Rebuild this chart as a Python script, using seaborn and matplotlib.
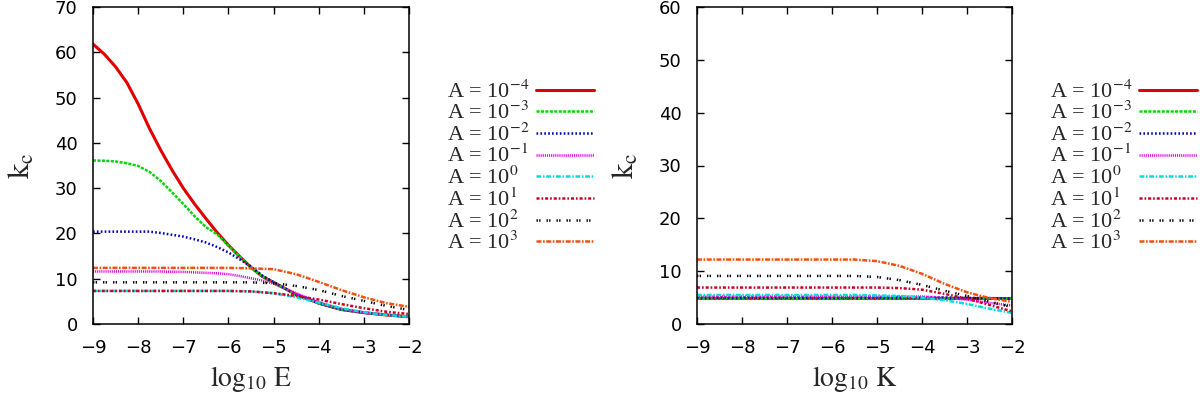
import numpy as np
import pandas as pd
import matplotlib
matplotlib.use('Agg')
import matplotlib.pyplot as plt
import seaborn as sns

sns.set_theme(style='ticks')
plt.rcParams['font.family'] = ['DejaVu Sans']
plt.rcParams['mathtext.fontset'] = 'stix'
plt.rcParams['lines.scale_dashes'] = False

# --- data ---
amp_labels = ['-4', '-3', '-2', '-1', '0', '1', '2', '3']

# left panel: k_c vs log10 E (finer sampling where the curves bend)
log_E = [-9, -8.75, -8.5, -8.25, -8, -7.75, -7.5, -7.25, -7, -6.75, -6.5, -6.25,
         -6, -5.75, -5.5, -5.25, -5, -4.5, -4, -3.5, -3, -2.5, -2]
kc_E_m4 = [61.8, 59.6, 56.8, 53.3, 48.6, 43.2, 38.4, 34.0, 30.0, 26.5, 23.3, 20.2,
           17.4, 14.9, 12.5, 10.5, 9.2, 6.5, 4.6, 3.2, 2.5, 2.0, 1.6]
kc_E_m3 = [36.1, 36.05, 35.9, 35.5, 34.9, 33.6, 31.6, 29.1, 26.5, 23.8, 21.4, 19.8,
           17.3, 14.9, 12.5, 10.5, 9.2, 6.5, 4.6, 3.2, 2.5, 2.0, 1.6]
kc_E_m2 = [20.4, 20.4, 20.4, 20.4, 20.4, 20.4, 20.1, 19.7, 19.3, 18.7, 18.0, 17.0,
           15.8, 14.3, 12.7, 10.7, 9.2, 6.5, 4.6, 3.2, 2.5, 2.0, 1.6]
kc_E_m1 = [11.6, 11.6, 11.6, 11.6, 11.6, 11.6, 11.6, 11.55, 11.5, 11.4, 11.3, 11.2,
           11.0, 10.6, 10.1, 9.6, 8.9, 6.8, 4.8, 3.3, 2.5, 2.0, 1.6]
kc_E_0 = [7.3, 7.3, 7.3, 7.3, 7.3, 7.3, 7.3, 7.3, 7.3, 7.3, 7.3, 7.3,
          7.3, 7.25, 7.2, 7.0, 6.8, 5.9, 4.7, 3.5, 2.6, 2.0, 1.6]
kc_E_1 = [7.3, 7.3, 7.3, 7.3, 7.3, 7.3, 7.3, 7.3, 7.3, 7.3, 7.3, 7.3,
          7.3, 7.25, 7.2, 7.0, 6.8, 6.2, 5.4, 4.4, 3.5, 2.7, 2.2]
kc_E_2 = [9.2, 9.2, 9.2, 9.2, 9.2, 9.2, 9.2, 9.2, 9.2, 9.2, 9.2, 9.2,
          9.2, 9.2, 9.2, 9.1, 9.0, 8.4, 7.5, 6.2, 5.1, 4.0, 3.1]
kc_E_3 = [12.4, 12.4, 12.4, 12.4, 12.4, 12.4, 12.4, 12.4, 12.4, 12.4, 12.4, 12.4,
          12.4, 12.35, 12.3, 12.2, 12.1, 11.0, 9.3, 7.5, 5.9, 4.6, 3.8]

# right panel: k_c vs log10 K
log_K = [-9, -8.5, -8, -7.5, -7, -6.5, -6, -5.5, -5, -4.5, -4, -3.5, -3, -2.5, -2]
kc_K_m4 = [5.0, 5.0, 5.0, 5.0, 5.0, 5.0, 5.0, 5.0, 5.0, 5.0, 5.0, 5.0, 5.0, 5.0, 5.0]
kc_K_m3 = [5.0, 5.0, 5.0, 5.0, 5.0, 5.0, 5.0, 5.0, 5.0, 5.0, 5.0, 5.0, 5.0, 5.0, 5.0]
kc_K_m2 = [5.0, 5.0, 5.0, 5.0, 5.0, 5.0, 5.0, 5.0, 5.0, 5.0, 5.0, 5.0, 4.95, 4.9, 4.8]
kc_K_m1 = [5.2, 5.2, 5.2, 5.2, 5.2, 5.2, 5.2, 5.2, 5.2, 5.2, 5.2, 5.0, 4.6, 4.0, 3.5]
kc_K_0 = [5.5, 5.5, 5.5, 5.5, 5.5, 5.5, 5.5, 5.5, 5.4, 5.3, 5.0, 4.5, 3.8, 2.9, 2.1]
kc_K_1 = [6.9, 6.9, 6.9, 6.9, 6.9, 6.9, 6.9, 6.9, 6.9, 6.8, 6.5, 5.7, 4.8, 3.6, 2.4]
kc_K_2 = [9.1, 9.1, 9.1, 9.1, 9.1, 9.1, 9.1, 9.1, 8.9, 8.3, 7.4, 6.3, 5.3, 4.2, 3.2]
kc_K_3 = [12.2, 12.2, 12.2, 12.2, 12.2, 12.2, 12.2, 12.2, 11.9, 11.0, 9.5, 7.6, 6.0, 4.9, 4.2]

series_E = [kc_E_m4, kc_E_m3, kc_E_m2, kc_E_m1, kc_E_0, kc_E_1, kc_E_2, kc_E_3]
series_K = [kc_K_m4, kc_K_m3, kc_K_m2, kc_K_m1, kc_K_0, kc_K_1, kc_K_2, kc_K_3]

# gnuplot-ish line styles
colors = ['#e00000', '#00d800', '#0000c0', '#e000e0', '#00dede', '#cc0022', '#000000', '#f05010']
styles = ['-',
          (0, (2.2, 1.0)),
          (0, (1.2, 1.6)),
          (0, (0.8, 0.7)),
          (0, (3.5, 1.2, 1.1, 1.2)),
          (0, (2.2, 1.4, 1.2, 1.4)),
          (0, (1.0, 0.9, 1.0, 4.3)),
          (0, (3.6, 1.1, 1.2, 1.1))]
widths = [2.2, 1.8, 1.8, 1.8, 1.8, 1.8, 1.8, 1.8]

fig = plt.figure(figsize=(12, 3.99), dpi=100)
ax1 = fig.add_axes([93 / 1200, 1 - 324 / 399, 316 / 1200, 317 / 399])
ax2 = fig.add_axes([697 / 1200, 1 - 324 / 399, 315 / 1200, 317 / 399])


def draw_panel(ax, xs, series, ymax, xname, legend_x):
    for vals, c, ls, lw, a in zip(series, colors, styles, widths, amp_labels):
        sns.lineplot(x=xs, y=vals, ax=ax, color=c, linestyle=ls, linewidth=lw,
                     label='A = 10$^{%s}$' % a.replace('-', '\u2212'))
    ax.set_xlim(-9, -2)
    ax.set_ylim(0, ymax)
    ax.set_xticks(range(-9, -1))
    ax.set_yticks(range(0, ymax + 1, 10))
    ax.tick_params(direction='in', top=True, right=True, length=5, width=1,
                   labelsize=13, pad=11, colors='black')
    for s in ax.spines.values():
        s.set_linewidth(1.1)
        s.set_color('black')
    ax.set_xlabel(r'$\mathrm{log_{10}\ %s}$' % xname, fontsize=20, labelpad=5)
    ax.set_ylabel(r'$\mathrm{k_c}$', fontsize=22, labelpad=14)
    return ax.legend(loc='upper left', bbox_to_anchor=(legend_x, 1 - 80 / 399),
                     bbox_transform=fig.transFigure, frameon=False, markerfirst=False,
                     borderaxespad=0, borderpad=0, handlelength=2.6, handletextpad=0.3,
                     labelspacing=-0.03, prop={'family': 'Liberation Serif', 'size': 16})


legs = [draw_panel(ax1, log_E, series_E, 70, 'E', 447 / 1200),
        draw_panel(ax2, log_K, series_K, 60, 'K', 1050 / 1200)]

# gnuplot keys: labels left-aligned, samples lined up in one column
fig.canvas.draw()
rend = fig.canvas.get_renderer()
for leg in legs:
    tw = [t.get_window_extent(rend).width for t in leg.get_texts()]
    col = leg._legend_handle_box.get_children()[0]
    col.align = 'left'
    for row, w in zip(col.get_children(), tw):
        row.sep += (max(tw) - w) * 72 / fig.dpi

fig.savefig('out.png', dpi=100)
